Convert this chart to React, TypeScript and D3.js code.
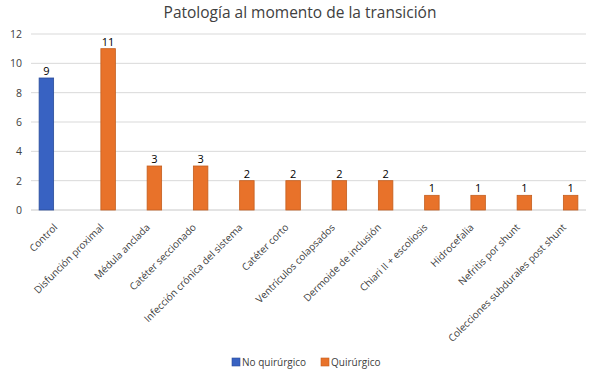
import React from "react";
import * as d3 from "d3";

const categories = [
  "Control",
  "Disfunción proximal",
  "Médula anclada",
  "Catéter seccionado",
  "Infección crónica del sistema",
  "Catéter corto",
  "Ventrículos colapsados",
  "Dermoide de inclusión",
  "Chiari II + escoliosis",
  "Hidrocefalia",
  "Nefritis por shunt",
  "Colecciones subdurales post shunt",
];
const seriesNames = ["No quirúrgico", "Quirúrgico"];
const noQuirurgico: (number | null)[] = [9, null, null, null, null, null, null, null, null, null, null, null];
const quirurgico: (number | null)[] = [null, 11, 3, 3, 2, 2, 2, 2, 1, 1, 1, 1];
const yTicks = [0, 2, 4, 6, 8, 10, 12];
const title = "Patología al momento de la transición";

const W = 600;
const H = 381;
const colors = ["#3862C2", "#E8722A"];
const strokes = ["#2A4C99", "#C45E1E"];
const FONT = "'Open Sans', 'Noto Sans', sans-serif";

export default function App() {
  const left = 31, right = 586, top = 34, bottom = 210;
  const x = d3.scaleBand<string>().domain(categories).range([left, right]).paddingInner(0).paddingOuter(0);
  const y = d3.scaleLinear().domain([0, 12]).range([bottom, top]);
  const bw = 14.5;
  const gap = 1;
  const series = [noQuirurgico, quirurgico];

  return (
    <svg width={W} height={H} style={{ position: "absolute", left: 0, top: 0, background: "#fff" }} fontFamily={FONT}>
      <rect x={0} y={0} width={W} height={H} fill="#fff" />
      <text x={300} y={18} textAnchor="middle" fontSize={15.5} fill="#404040">{title}</text>
      {yTicks.map((t) => (
        <g key={t}>
          <line x1={left} x2={right} y1={y(t)} y2={y(t)} stroke={t === 0 ? "#C8C8C8" : "#D9D9D9"} strokeWidth={1} />
          <text x={22} y={y(t) + 4} textAnchor="end" fontSize={10.5} fill="#404040">{t}</text>
        </g>
      ))}
      {categories.map((c, i) => {
        const cx = x(c)! + x.bandwidth() / 2;
        return series.map((s, si) => {
          const v = s[i];
          if (v == null) return null;
          const bx = si === 0 ? cx - gap / 2 - bw : cx + gap / 2;
          return (
            <g key={c + si}>
              <rect x={bx} y={y(v)} width={bw} height={y(0) - y(v)} fill={colors[si]} stroke={strokes[si]} strokeWidth={0.8} />
              <text x={bx + bw / 2} y={y(v) - 3} textAnchor="middle" fontSize={11} fill="#000">{v}</text>
            </g>
          );
        });
      })}
      {categories.map((c) => {
        const cx = x(c)! + x.bandwidth() / 2;
        return (
          <text key={c} transform={`translate(${cx + 4},${bottom + 18}) rotate(-45)`} textAnchor="end" fontSize={10} fill="#404040">{c}</text>
        );
      })}
      <g>
        <rect x={232} y={358} width={8} height={8} fill={colors[0]} stroke={strokes[0]} strokeWidth={0.6} />
        <text x={242} y={366} fontSize={10} fill="#404040">{seriesNames[0]}</text>
        <rect x={321} y={358} width={8} height={8} fill={colors[1]} stroke={strokes[1]} strokeWidth={0.6} />
        <text x={331} y={366} fontSize={10} fill="#404040">{seriesNames[1]}</text>
      </g>
    </svg>
  );
}
